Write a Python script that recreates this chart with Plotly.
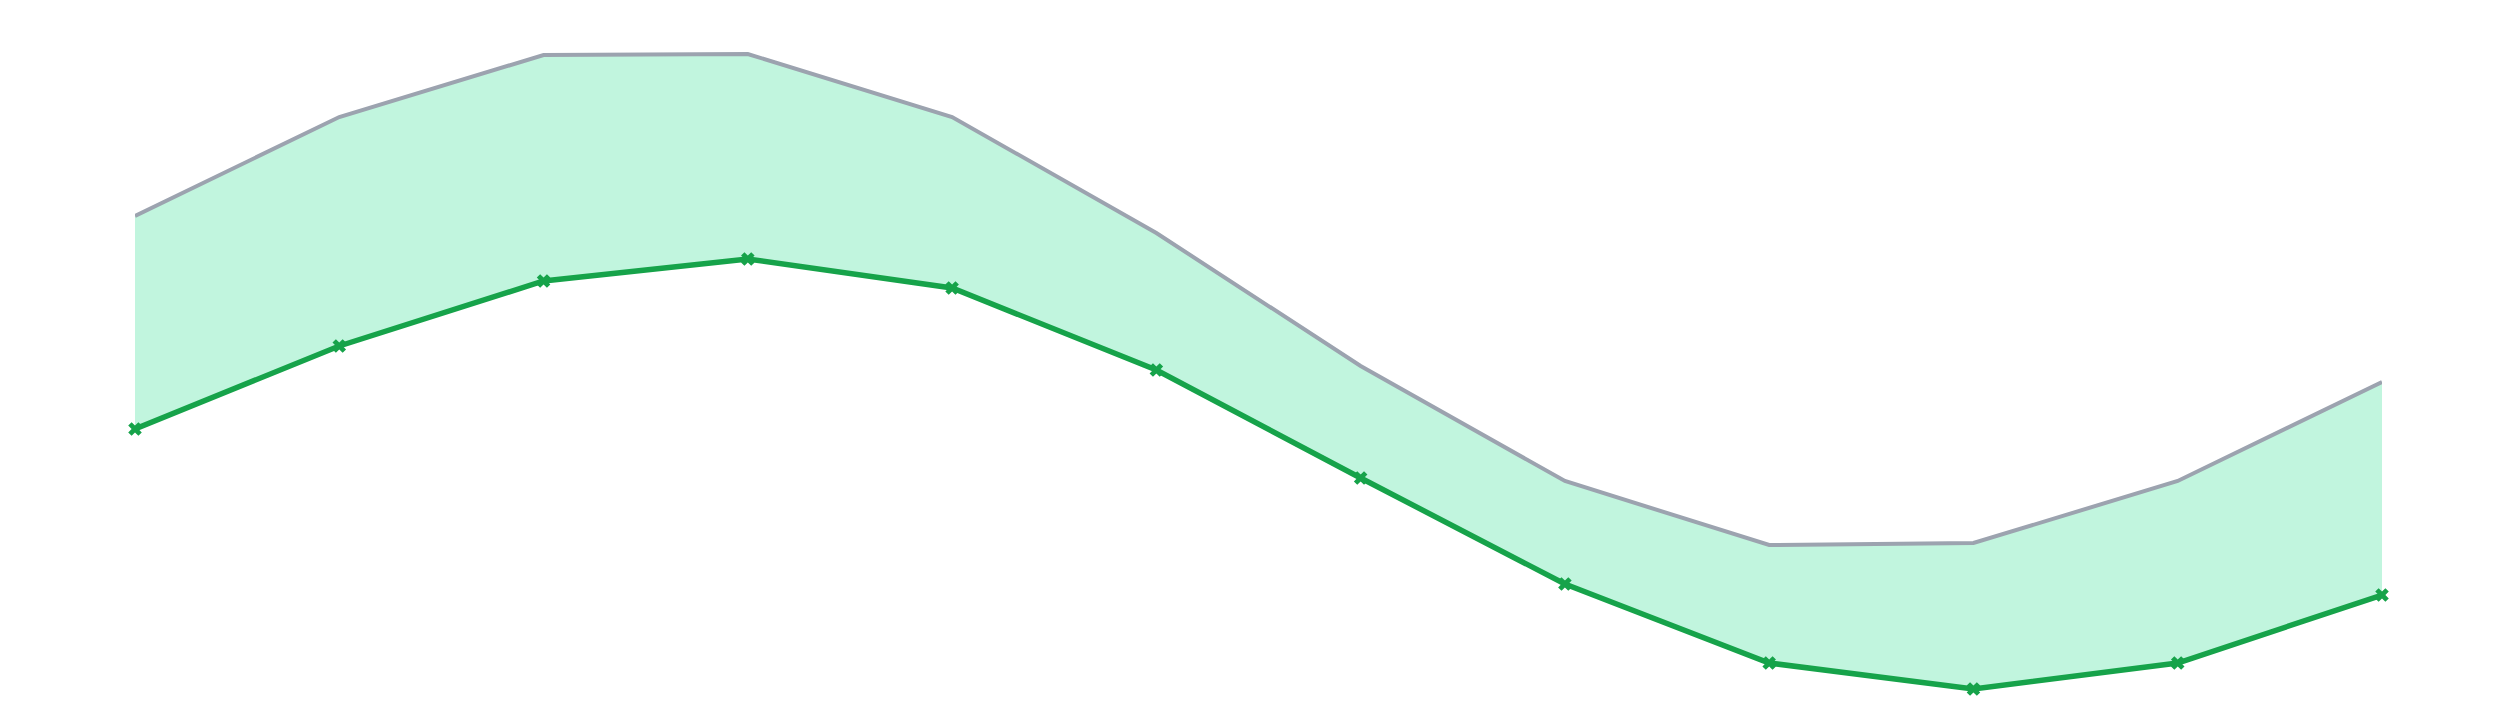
import plotly.graph_objects as go

x_idx = list(range(12))
upper_vals = [49.2, 59.1, 65.3, 65.4, 59.1, 47.5, 34.2, 22.7, 16.3, 16.5, 22.7, 32.6]
lower_vals = [27.9, 36.2, 42.7, 44.9, 42.0, 33.8, 23.0, 12.4, 4.5, 1.9, 4.5, 11.3]

fig = go.Figure()
fig.add_trace(go.Scatter(
    x=x_idx, y=upper_vals, mode="lines",
    line=dict(color="#9CA3AF", width=4),
    hoverinfo="skip", showlegend=False, cliponaxis=False,
))
fig.add_trace(go.Scatter(
    x=x_idx, y=lower_vals, mode="lines+markers",
    line=dict(color="#16A34A", width=5.5),
    marker=dict(symbol="x", size=12, color="#16A34A"),
    fill="tonexty", fillcolor="#C1F5DE",
    showlegend=False, cliponaxis=False,
))

fig.update_layout(
    width=2500, height=728,
    margin=dict(l=127, r=126, t=0, b=0),
    paper_bgcolor="white", plot_bgcolor="white",
    xaxis=dict(range=[0, 11], visible=False),
    yaxis=dict(range=[-2.8, 70], visible=False),
)
fig.write_html("out.html")
